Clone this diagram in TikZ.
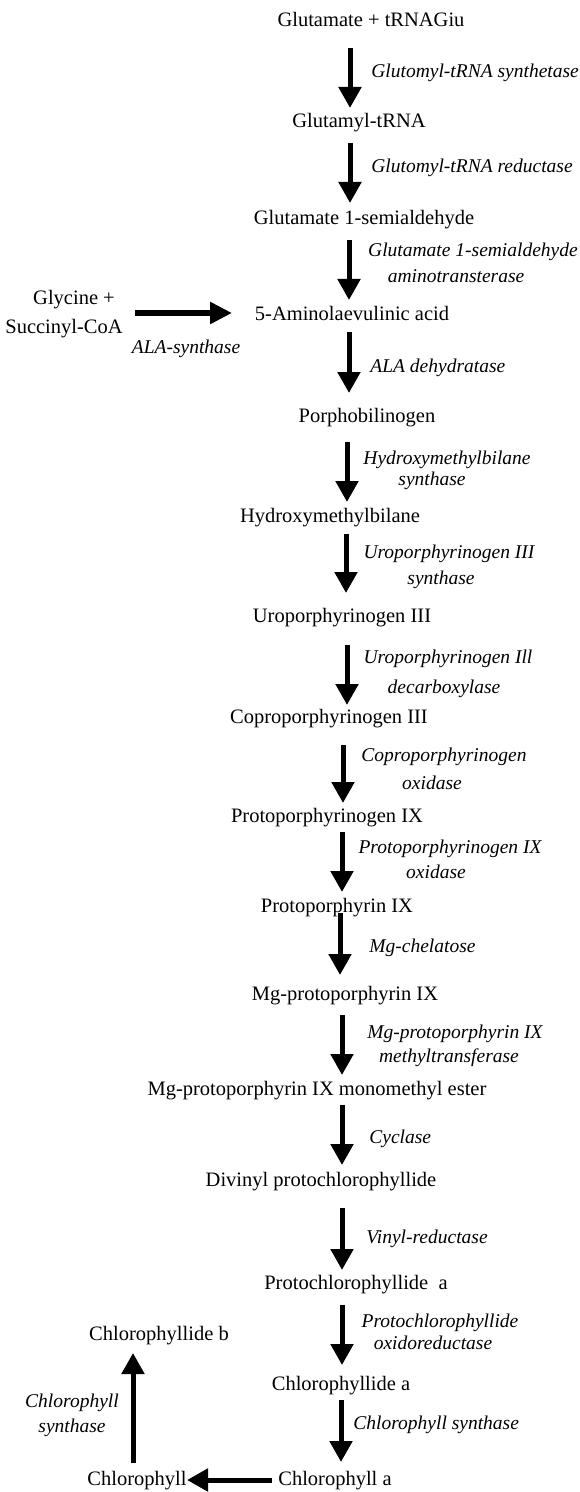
\documentclass[tikz,border=0pt]{standalone}
\usepackage{fontspec}
\setmainfont{Liberation Serif}
\usetikzlibrary{arrows.meta}
\begin{document}
\begin{tikzpicture}[x=0.5pt,y=-0.5pt,
  every node/.style={inner sep=0pt, text height=7pt, text depth=2pt},
  met/.style={font=\fontsize{10.25}{12}\selectfont},
  enz/.style={font=\fontsize{9.75}{12}\selectfont\itshape},
  arr/.style={line width=2.5pt, -{Triangle[length=10.5pt,width=11pt]}},
  harr/.style={line width=3pt, -{Triangle[length=11pt,width=10.5pt]}}]
\useasboundingbox (0,0) rectangle (579,1492);
% metabolites
\node[met] (n1) at (371,22) {Glutamate + tRNAGiu};
\node[met] (n2) at (359,123) {Glutamyl-tRNA};
\node[met] (n3) at (364,220) {Glutamate 1-semialdehyde};
\node[met] (n4) at (352,316) {5-Aminolaevulinic acid};
\node[met] (n5) at (367,417) {Porphobilinogen};
\node[met] (n6) at (330,517) {Hydroxymethylbilane};
\node[met] (n7) at (342,617) {Uroporphyrinogen III};
\node[met] (n8) at (329,718) {Coproporphyrinogen III};
\node[met] (n9) at (327,817) {Protoporphyrinogen IX};
\node[met] (n10) at (337,907) {Protoporphyrin IX};
\node[met] (n11) at (345,995) {Mg-protoporphyrin IX};
\node[met] (n12) at (317,1090) {Mg-protoporphyrin IX monomethyl ester};
\node[met] (n13) at (321,1181) {Divinyl protochlorophyllide};
\node[met] (n14) at (356,1284) {Protochlorophyllide\ \ a};
\node[met] (n15) at (341,1385) {Chlorophyllide a};
\node[met] (n16) at (335,1480) {Chlorophyll a};
\node[met] (n17) at (137,1480) {Chlorophyll};
\node[met] (n18) at (159,1335) {Chlorophyllide b};
\node[met] (g1) at (74,300) {Glycine +};
\node[met] (g2) at (64,329) {Succinyl-CoA};
% enzymes
\node[enz,anchor=west] (L1) at (371,73) {Glutomyl-tRNA synthetase};
\node[enz,anchor=west] (L2) at (371,168) {Glutomyl-tRNA reductase};
\node[enz] (L3a) at (473,252) {Glutamate 1-semialdehyde};
\node[enz] (L3b) at (456,278) {aminotransterase};
\node[enz] (Lala) at (186,348) {ALA-synthase};
\node[enz,anchor=west] (L4) at (370,367) {ALA dehydratase};
\node[enz] (L5a) at (447,459) {Hydroxymethylbilane};
\node[enz] (L5b) at (432,480) {synthase};
\node[enz] (L6a) at (449,553) {Uroporphyrinogen III};
\node[enz] (L6b) at (441,579) {synthase};
\node[enz] (L7a) at (448,658) {Uroporphyrinogen Ill};
\node[enz] (L7b) at (444,688) {decarboxylase};
\node[enz] (L8a) at (444,756) {Coproporphyrinogen};
\node[enz] (L8b) at (432,784) {oxidase};
\node[enz] (L9a) at (450,848) {Protoporphyrinogen IX};
\node[enz] (L9b) at (436,873) {oxidase};
\node[enz,anchor=west] (L10) at (369,947) {Mg-chelatose};
\node[enz] (L11a) at (455,1033) {Mg-protoporphyrin IX};
\node[enz] (L11b) at (449,1057) {methyltransferase};
\node[enz,anchor=west] (L12) at (369,1138) {Cyclase};
\node[enz,anchor=west] (L13) at (366,1238) {Vinyl-reductase};
\node[enz] (L14a) at (440,1322) {Protochlorophyllide};
\node[enz] (L14b) at (433,1344) {oxidoreductase};
\node[enz,anchor=west] (L15) at (353,1424) {Chlorophyll synthase};
\node[enz] (L16a) at (72,1402) {Chlorophyll};
\node[enz] (L16b) at (72,1427) {synthase};
% arrows
\draw[arr,shorten <=13pt,shorten >=7.5pt] (n1 -| 350,0) -- (n2 -| 350,0);
\draw[arr,shorten <=10pt,shorten >=8.5pt] (n2 -| 350,0) -- (n3 -| 350,0);
\draw[arr,shorten <=10pt,shorten >=8pt] (n3 -| 349,0) -- (n4 -| 349,0);
\draw[arr,shorten <=8pt,shorten >=12pt] (n4 -| 349,0) -- (n5 -| 349,0);
\draw[arr,shorten <=12.5pt,shorten >=7.5pt] (n5 -| 347,0) -- (n6 -| 347,0);
\draw[arr,shorten <=8.5pt,shorten >=12pt] (n6 -| 346,0) -- (n7 -| 346,0);
\draw[arr,shorten <=14pt,shorten >=6.5pt] (n7 -| 347,0) -- (n8 -| 347,0);
\draw[arr,shorten <=13.5pt,shorten >=7pt] (n8 -| 343,0) -- (n9 -| 343,0);
\draw[arr,shorten <=7.5pt,shorten >=7.5pt] (n9 -| 342,0) -- (n10 -| 342,0);
\draw[arr,shorten <=3pt,shorten >=10pt] (n10 -| 340,0) -- (n11 -| 340,0);
\draw[arr,shorten <=10pt,shorten >=7.5pt] (n11 -| 342,0) -- (n12 -| 342,0);
\draw[arr,shorten <=7.5pt,shorten >=8pt] (n12 -| 342,0) -- (n13 -| 342,0);
\draw[arr,shorten <=13.5pt,shorten >=7pt] (n13 -| 342,0) -- (n14 -| 342,0);
\draw[arr,shorten <=10.5pt,shorten >=10pt] (n14 -| 342,0) -- (n15 -| 342,0);
\draw[arr,shorten <=7.5pt,shorten >=9pt] (n15 -| 341,0) -- (n16 -| 341,0);
\draw[harr,shorten <=35.5pt,shorten >=60pt] (g2 |- 0,313) -- (n4 |- 0,313);
\draw[arr,shorten <=31.5pt,shorten >=25pt] (n16.center) -- (n17.center);
\draw[arr,shorten <=8.5pt,shorten >=9pt] (n17 -| 133,0) -- (n18 -| 133,0);
\end{tikzpicture}
\end{document}
